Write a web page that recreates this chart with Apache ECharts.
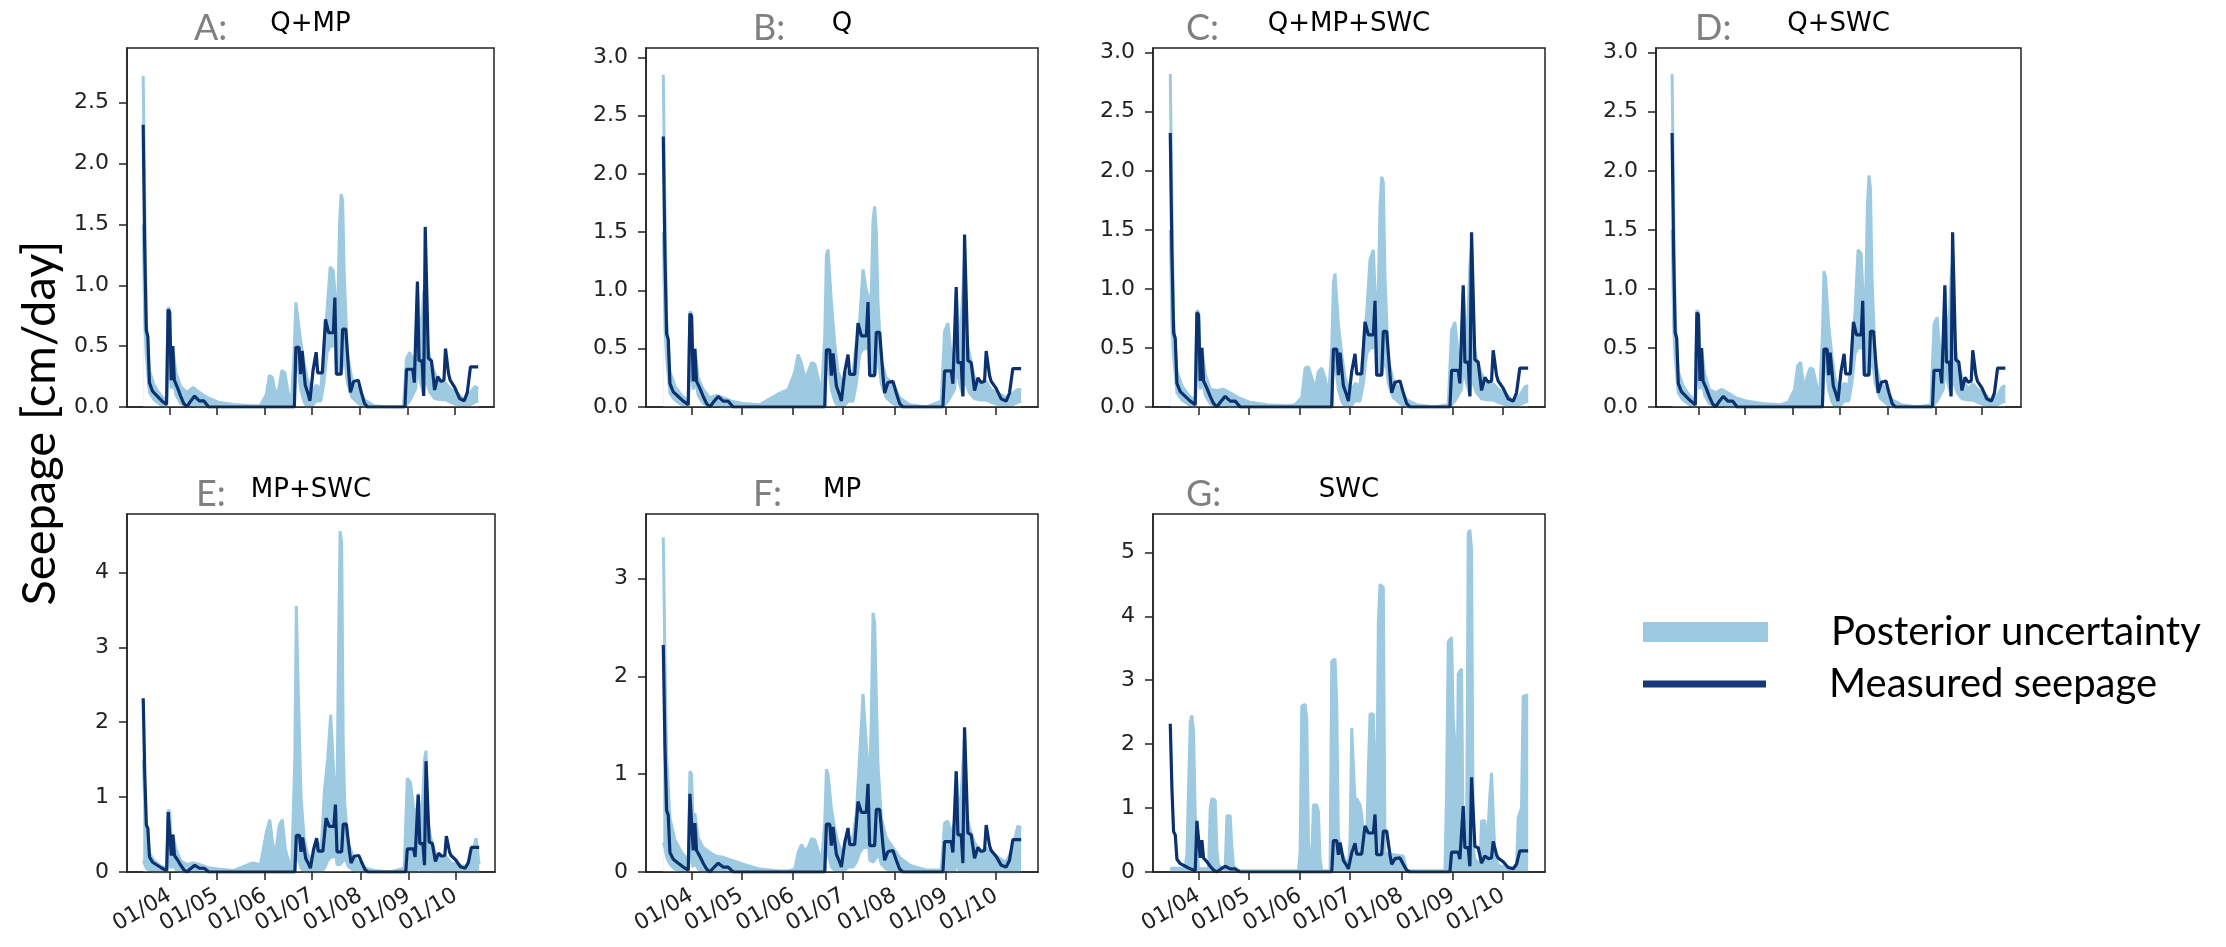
<!DOCTYPE html>
<html>
<head>
<meta charset="utf-8">
<title>Seepage - posterior uncertainty per calibration data set</title>
<script src="https://cdn.jsdelivr.net/npm/echarts@6/dist/echarts.min.js"></script>
<style>
html, body { margin: 0; padding: 0; background: #fff; }
#chart { width: 2226px; height: 947px; }
</style>
</head>
<body>
<div id="chart"></div>
<script>
const YEAR = 2018;

// measured seepage, identical in every panel (day/month of the season)
const measuredDates = [
  '03-15','03-16','03-17','03-18','03-19','03-21','03-24','03-27','03-30','03-31',
  '04-01','04-02','04-03','04-04','04-06','04-08','04-10','04-12','04-14','04-17',
  '04-20','04-23','04-26','06-20','06-21','06-23','06-24','06-25','06-27','06-29',
  '06-30','07-02','07-04','07-05','07-08','07-10','07-12','07-15','07-16','07-17',
  '07-20','07-21','07-23','07-25','07-26','07-28','07-31','08-02','08-04','08-06',
  '08-30','08-31','09-04','09-05','09-07','09-08','09-10','09-11','09-12','09-14',
  '09-16','09-18','09-20','09-22','09-24','09-25','09-27','09-28','10-01','10-04',
  '10-07','10-09','10-11','10-16'
];
const measuredValues = [
  2.32, 1.30, 0.63, 0.58, 0.20, 0.13, 0.09, 0.05, 0.02, 0.80,
  0.78, 0.22, 0.50, 0.22, 0.16, 0.09, 0.03, 0.00, 0.04, 0.09,
  0.05, 0.05, 0.00, 0.00, 0.49, 0.49, 0.27, 0.46, 0.18, 0.10,
  0.05, 0.30, 0.45, 0.28, 0.28, 0.72, 0.61, 0.61, 0.90, 0.27,
  0.27, 0.64, 0.64, 0.27, 0.12, 0.21, 0.22, 0.12, 0.03, 0.00,
  0.00, 0.31, 0.31, 0.20, 1.03, 0.38, 0.38, 0.09, 1.48, 0.40,
  0.38, 0.14, 0.25, 0.21, 0.22, 0.48, 0.27, 0.22, 0.16, 0.07,
  0.05, 0.12, 0.33, 0.33
];

// posterior uncertainty band, panels A-F share these dates
const bandDates = [
  '03-15','03-16','03-17','03-19','03-22','03-26','03-30','03-31','04-01','04-02',
  '04-03','04-05','04-08','04-12','04-16','04-20','04-25','05-02','05-12','05-24',
  '05-29','06-02','06-04','06-06','06-08','06-10','06-12','06-14','06-16','06-18',
  '06-20','06-21','06-22','06-24','06-26','06-28','07-01','07-04','07-07','07-09',
  '07-11','07-13','07-15','07-16','07-17','07-18','07-19','07-20','07-21','07-22',
  '07-24','07-27','07-31','08-04','08-10','08-20','08-29','08-31','09-02','09-04',
  '09-06','09-07','09-09','09-11','09-12','09-13','09-15','09-18','09-22','09-25',
  '09-28','10-02','10-07','10-11','10-14','10-16'
];
// lower edge for the Q panels (A-D)
const lowQ = [
  1.5, 0.7, 0.42, 0.12, 0.06, 0.02, 0, 0.45, 0.45, 0.15,
  0.25, 0.1, 0.03, 0, 0.02, 0, 0, 0, 0, 0,
  0, 0, 0, 0, 0, 0, 0, 0, 0, 0,
  0, 0.42, 0.38, 0.15, 0.05, 0, 0, 0.05, 0.05, 0.2,
  0.45, 0.5, 0.5, 0.6, 0.3, 0.28, 0.28, 0.27, 0.35, 0.45,
  0.2, 0.08, 0.03, 0, 0, 0, 0, 0.02, 0.05, 0.1,
  0.15, 0.35, 0.2, 0.1, 0.3, 0.2, 0.12, 0.07, 0.06, 0.06,
  0.04, 0.02, 0.01, 0.02, 0.04, 0.05
];
const upA = [
  2.72, 1.7, 0.72, 0.3, 0.18, 0.1, 0.05, 0.82, 0.8, 0.3,
  0.5, 0.28, 0.17, 0.12, 0.16, 0.12, 0.08, 0.04, 0.02, 0.01,
  0.01, 0.1, 0.26, 0.24, 0.1, 0.15, 0.3, 0.28, 0.12, 0.02,
  0.5, 0.86, 0.85, 0.55, 0.38, 0.25, 0.12, 0.18, 0.15, 0.5,
  0.8, 1.15, 1.12, 0.95, 0.7, 0.9, 1.5, 1.75, 1.7, 1.1,
  0.45, 0.22, 0.15, 0.06, 0.01, 0, 0, 0.4, 0.45, 0.38,
  0.45, 1.0, 0.5, 0.95, 0.98, 0.55, 0.4, 0.28, 0.18, 0.2,
  0.15, 0.12, 0.06, 0.12, 0.17, 0.15
];
const upB = [
  2.85, 1.7, 0.75, 0.3, 0.18, 0.1, 0.05, 0.82, 0.8, 0.3,
  0.5, 0.25, 0.15, 0.08, 0.1, 0.08, 0.05, 0.03, 0.02, 0.12,
  0.15, 0.3, 0.45, 0.38, 0.25, 0.3, 0.38, 0.37, 0.25, 0.1,
  0.6, 1.3, 1.35, 0.9, 0.55, 0.3, 0.2, 0.3, 0.3, 0.55,
  0.75, 1.18, 1.0, 0.95, 0.8, 1.0, 1.6, 1.72, 1.5, 0.9,
  0.4, 0.25, 0.2, 0.08, 0.02, 0, 0.05, 0.65, 0.72, 0.45,
  0.45, 1.0, 0.5, 1.0, 1.3, 0.6, 0.45, 0.25, 0.18, 0.22,
  0.15, 0.12, 0.08, 0.12, 0.15, 0.15
];
const upC = [
  2.82, 1.7, 0.75, 0.3, 0.18, 0.1, 0.05, 0.82, 0.8, 0.3,
  0.5, 0.28, 0.15, 0.14, 0.15, 0.12, 0.08, 0.04, 0.02, 0.01,
  0.02, 0.08, 0.33, 0.34, 0.25, 0.15, 0.3, 0.33, 0.25, 0.08,
  0.5, 1.05, 1.13, 0.7, 0.45, 0.25, 0.12, 0.2, 0.18, 0.5,
  0.8, 1.25, 1.33, 1.0, 0.75, 1.0, 1.7, 1.95, 1.9, 1.1,
  0.4, 0.22, 0.15, 0.06, 0.02, 0, 0.02, 0.65, 0.72, 0.45,
  0.45, 1.0, 0.45, 1.2, 1.36, 0.55, 0.4, 0.28, 0.18, 0.2,
  0.15, 0.12, 0.05, 0.1, 0.17, 0.18
];
const upD = [
  2.82, 1.7, 0.75, 0.3, 0.18, 0.1, 0.05, 0.82, 0.8, 0.3,
  0.5, 0.28, 0.15, 0.12, 0.15, 0.12, 0.08, 0.05, 0.03, 0.02,
  0.04, 0.15, 0.35, 0.38, 0.15, 0.25, 0.33, 0.32, 0.2, 0.06,
  0.6, 1.15, 1.1, 0.7, 0.45, 0.25, 0.12, 0.2, 0.18, 0.5,
  0.8, 1.33, 1.3, 1.0, 0.75, 1.0, 1.7, 1.96, 1.85, 1.1,
  0.4, 0.22, 0.15, 0.06, 0.02, 0, 0.02, 0.7, 0.76, 0.45,
  0.45, 1.0, 0.45, 1.1, 1.25, 0.55, 0.4, 0.25, 0.15, 0.2,
  0.15, 0.12, 0.05, 0.1, 0.17, 0.18
];
const lowE = [
  0.15, 0.1, 0.05, 0.02, 0, 0, 0, 0.15, 0.15, 0.05,
  0.1, 0.03, 0, 0, 0, 0, 0, 0, 0, 0,
  0, 0, 0, 0, 0, 0, 0, 0, 0, 0,
  0, 0.3, 0.2, 0.05, 0, 0, 0, 0, 0, 0.05,
  0.15, 0.2, 0.2, 0.3, 0.1, 0.1, 0.1, 0.1, 0.15, 0.2,
  0.08, 0.03, 0, 0, 0, 0, 0, 0, 0, 0,
  0, 0.1, 0, 0, 0.1, 0, 0, 0, 0, 0,
  0, 0, 0, 0, 0, 0
];
const upE = [
  1.5, 0.9, 0.6, 0.25, 0.15, 0.08, 0.05, 0.83, 0.8, 0.35,
  0.5, 0.3, 0.15, 0.1, 0.12, 0.1, 0.06, 0.04, 0.02, 0.12,
  0.1, 0.55, 0.7, 0.35, 0.3, 0.62, 0.7, 0.3, 0.15, 0.05,
  1.5, 3.55, 2.6, 1.0, 0.45, 0.25, 0.15, 0.4, 0.35, 1.1,
  1.5, 2.1, 1.3, 1.1, 1.0, 3.0, 4.55, 4.4, 1.7, 0.9,
  0.4, 0.22, 0.12, 0.05, 0.02, 0, 0.05, 1.25, 1.2, 0.85,
  0.8, 1.05, 0.6, 1.5, 1.62, 0.7, 0.45, 0.25, 0.15, 0.2,
  0.12, 0.1, 0.07, 0.2, 0.45, 0.1
];
const lowF = [
  0.3, 0.25, 0.15, 0.08, 0.03, 0.01, 0, 0.2, 0.2, 0.05,
  0.1, 0.03, 0, 0, 0, 0, 0, 0, 0, 0,
  0, 0, 0, 0, 0, 0, 0, 0, 0, 0,
  0, 0.25, 0.2, 0.05, 0.02, 0, 0, 0.05, 0.05, 0.1,
  0.2, 0.25, 0.25, 0.35, 0.12, 0.1, 0.1, 0.1, 0.15, 0.2,
  0.08, 0.03, 0.01, 0, 0, 0, 0, 0, 0, 0,
  0, 0.1, 0, 0, 0.1, 0, 0, 0, 0, 0,
  0, 0, 0, 0, 0, 0
];
const upF = [
  3.42, 2.2, 1.2, 0.55, 0.33, 0.2, 0.12, 1.03, 1.0, 0.45,
  0.6, 0.35, 0.25, 0.2, 0.16, 0.15, 0.12, 0.08, 0.03, 0.01,
  0.01, 0.03, 0.2, 0.28, 0.22, 0.25, 0.34, 0.33, 0.22, 0.1,
  0.5, 1.05, 1.0, 0.65, 0.45, 0.3, 0.18, 0.35, 0.35, 0.6,
  1.2, 1.82, 1.3, 1.1, 0.9, 1.6, 2.65, 2.55, 1.8, 1.1,
  0.55, 0.35, 0.25, 0.15, 0.07, 0.02, 0.02, 0.5, 0.52, 0.4,
  0.5, 1.03, 0.5, 1.1, 1.4, 0.6, 0.45, 0.3, 0.2, 0.25,
  0.18, 0.15, 0.1, 0.25, 0.47, 0.45
];

// panel G (SWC only): spiky band from zero, own dates
const gDates = [
  '03-15','03-24','03-25','03-26','03-27','03-28','03-29','03-30','03-31','04-01',
  '04-07','04-08','04-09','04-11','04-12','04-13','04-17','04-18','04-20','04-21',
  '04-22','04-24','05-31','06-01','06-02','06-04','06-05','06-06','06-07','06-08',
  '06-09','06-11','06-12','06-13','06-14','06-19','06-20','06-22','06-23','06-24',
  '06-26','06-30','07-01','07-02','07-03','07-04','07-05','07-07','07-08','07-09',
  '07-10','07-11','07-12','07-13','07-15','07-16','07-17','07-18','07-19','07-21',
  '07-22','07-24','08-02','08-04','08-27','08-28','08-29','08-31','09-01','09-02',
  '09-03','09-04','09-06','09-07','09-08','09-09','09-10','09-11','09-12','09-13',
  '09-14','09-17','09-18','09-20','09-21','09-22','09-23','09-24','09-25','09-26',
  '09-28','10-09','10-10','10-12','10-13','10-16'
];
const upG = [
  0.06, 0.06, 0.3, 0.3, 2.35, 2.45, 2.2, 0.9, 0.4, 0.05,
  0.05, 1.0, 1.15, 1.12, 0.35, 0.1, 0.05, 0.88, 0.88, 0.4,
  0.1, 0.02, 0.02, 0.3, 2.6, 2.62, 2.4, 0.5, 0.02, 0.2,
  1.05, 1.05, 0.95, 0.2, 0.02, 0.02, 3.3, 3.33, 2.65, 0.55,
  0.3, 0.1, 0.5, 2.25, 2.28, 1.1, 1.15, 1.05, 0.9, 0.9,
  0.3, 0.5, 1.6, 2.47, 2.47, 1.5, 0.9, 3.9, 4.5, 4.45,
  0.3, 0.28, 0.25, 0.02, 0.02, 1.3, 3.6, 3.67, 2.4, 2.0,
  0.4, 3.1, 3.18, 0.4, 0.1, 0.3, 5.3, 5.35, 5.05, 0.4,
  0.2, 0.1, 0.8, 0.8, 0.2, 0.2, 1.2, 1.55, 1.52, 0.3,
  0.1, 0.05, 0.85, 1.0, 2.75, 2.77
];

// axes
const monthTicks = ['04-01', '05-01', '06-01', '07-01', '08-01', '09-01', '10-01'];
const yTicksA = [0, 0.5, 1, 1.5, 2, 2.5];
const yTicksQ = [0, 0.5, 1, 1.5, 2, 2.5, 3];
const yTicksE = [0, 1, 2, 3, 4];
const yTicksF = [0, 1, 2, 3];
const yTicksG = [0, 1, 2, 3, 4, 5];
const panelLetters = ['A:', 'B:', 'C:', 'D:', 'E:', 'F:', 'G:'];
const panelNames = ['Q+MP', 'Q', 'Q+MP+SWC', 'Q+SWC', 'MP+SWC', 'MP', 'SWC'];

const panels = [
  { up: upA, low: lowQ, dates: bandDates, yMax: 2.95, yTicks: yTicksA, digits: 1 },
  { up: upB, low: lowQ, dates: bandDates, yMax: 3.08, yTicks: yTicksQ, digits: 1 },
  { up: upC, low: lowQ, dates: bandDates, yMax: 3.04, yTicks: yTicksQ, digits: 1 },
  { up: upD, low: lowQ, dates: bandDates, yMax: 3.04, yTicks: yTicksQ, digits: 1 },
  { up: upE, low: lowE, dates: bandDates, yMax: 4.78, yTicks: yTicksE, digits: 0 },
  { up: upF, low: lowF, dates: bandDates, yMax: 3.66, yTicks: yTicksF, digits: 0 },
  { up: upG, low: null, dates: gDates, yMax: 5.6, yTicks: yTicksG, digits: 0 },
];

// pixel boxes: left, top, width, height, x of the grey panel letter
const boxes = [
  [127, 48, 367, 359, 194],
  [646, 48, 392, 359, 753],
  [1153, 48, 392, 359, 1186],
  [1656, 48, 365, 359, 1695],
  [127, 514, 368, 358, 196],
  [646, 514, 392, 358, 753],
  [1153, 514, 392, 358, 1186],
];

const LIGHT = '#9ecae1';
const DARK = '#0b326f';
const INK = '#222';
const X_MIN = Date.UTC(YEAR, 2, 4, 15);
const X_MAX = Date.UTC(YEAR, 9, 26, 3);

function ts(md) {
  const p = md.split('-');
  return Date.UTC(YEAR, Number(p[0]) - 1, Number(p[1]));
}
function pad2(n) { return (n < 10 ? '0' : '') + n; }
function dayMonth(v) {
  const d = new Date(v);
  return pad2(d.getUTCDate()) + '/' + pad2(d.getUTCMonth() + 1);
}

if (measuredDates.length !== measuredValues.length) throw new Error('measured: length mismatch');
panels.forEach(function (p, i) {
  if (p.up.length !== p.dates.length || (p.low && p.low.length !== p.dates.length)) {
    throw new Error('panel ' + panelLetters[i] + ': band arrays do not match dates');
  }
});

const tickTimes = monthTicks.map(ts);
const measured = measuredDates.map(function (d, i) { return [ts(d), measuredValues[i]]; });

const grid = [], xAxis = [], yAxis = [], series = [], title = [];
panels.forEach(function (p, i) {
  const b = boxes[i];
  const bottomRow = i >= 4;
  grid.push({
    left: b[0], top: b[1], width: b[2], height: b[3],
    show: true, borderColor: INK, borderWidth: 1.5, backgroundColor: 'transparent',
    containLabel: false, outerBoundsMode: 'none',
  });
  // x is a linear value axis over UTC timestamps, ticks on the first of each month
  xAxis.push({
    type: 'value', gridIndex: i, min: X_MIN, max: X_MAX, z: 5,
    axisLine: { show: true, lineStyle: { color: INK, width: 1.5 } },
    splitLine: { show: false },
    axisTick: { show: true, length: 8, lineStyle: { color: INK, width: 1.5 }, customValues: tickTimes },
    axisLabel: {
      show: bottomRow, customValues: tickTimes, rotate: 30, margin: 22,
      fontFamily: 'DejaVu Sans', fontSize: 22, color: INK, formatter: dayMonth,
    },
  });
  yAxis.push({
    type: 'value', gridIndex: i, min: 0, max: p.yMax, z: 5,
    axisLine: { show: true, lineStyle: { color: INK, width: 1.5 } },
    splitLine: { show: false },
    axisTick: { show: true, length: 8, lineStyle: { color: INK, width: 1.5 }, customValues: p.yTicks },
    axisLabel: {
      customValues: p.yTicks, margin: 18, fontFamily: 'DejaVu Sans', fontSize: 22, color: INK,
      formatter: function (v) { return v.toFixed(p.digits); },
    },
  });

  // band: upper edge filled down to zero, then the part below the lower edge
  // is painted back to white; the measured line goes on top
  const bandLine = { color: LIGHT, width: 3 };
  series.push({
    type: 'line', name: 'Posterior uncertainty', xAxisIndex: i, yAxisIndex: i,
    symbol: 'none', z: 1, silent: true,
    data: p.dates.map(function (d, j) { return [ts(d), p.up[j]]; }),
    lineStyle: bandLine, itemStyle: { color: LIGHT }, areaStyle: { color: LIGHT, opacity: 1 },
  });
  if (p.low) {
    series.push({
      type: 'line', name: 'Posterior uncertainty', xAxisIndex: i, yAxisIndex: i,
      symbol: 'none', z: 2, silent: true,
      data: p.dates.map(function (d, j) { return [ts(d), p.low[j]]; }),
      lineStyle: bandLine, itemStyle: { color: LIGHT }, areaStyle: { color: '#fff', opacity: 1 },
    });
  }
  series.push({
    type: 'line', name: 'Measured seepage', xAxisIndex: i, yAxisIndex: i,
    symbol: 'none', z: 3, silent: true, data: measured,
    lineStyle: { color: DARK, width: 3.2 }, itemStyle: { color: DARK },
  });

  title.push({
    text: panelLetters[i], left: b[4], top: b[1] - 38, padding: 0,
    textStyle: { fontFamily: 'Lato', fontSize: 36, fontWeight: 'normal', color: '#808080' },
  });
  title.push({
    text: panelNames[i], left: b[0] + b[2] / 2, top: b[1] - 37, padding: 0, textAlign: 'center',
    textStyle: { fontFamily: 'DejaVu Sans', fontSize: 26, fontWeight: 'normal', color: '#000' },
  });
});

const legendText = { fontFamily: 'Lato', fontSize: 40, color: '#000', padding: [0, 0, 0, 58] };
const chart = echarts.init(document.getElementById('chart'), null, { renderer: 'canvas' });
chart.setOption({
  animation: false,
  backgroundColor: '#fff',
  title: title,
  grid: grid,
  xAxis: xAxis,
  yAxis: yAxis,
  series: series,
  legend: [
    {
      data: [{ name: 'Posterior uncertainty', icon: 'rect', itemStyle: { color: LIGHT, borderWidth: 0 } }],
      left: 1643, top: 612, padding: 0, itemWidth: 125, itemHeight: 20, selectedMode: false,
      itemStyle: { borderWidth: 0 }, textStyle: legendText,
    },
    {
      data: [{ name: 'Measured seepage', icon: 'rect', itemStyle: { color: '#163a78', borderWidth: 0 } }],
      left: 1643, top: 664, padding: 0, itemWidth: 123, itemHeight: 7, selectedMode: false,
      itemStyle: { borderWidth: 0 }, textStyle: legendText,
    },
  ],
  graphic: [{
    type: 'text', x: 40, y: 423, rotation: Math.PI / 2,
    style: { text: 'Seepage [cm/day]', fontFamily: 'Lato', fontSize: 47, fill: '#000', align: 'center', verticalAlign: 'middle' },
  }],
});
</script>
</body>
</html>
